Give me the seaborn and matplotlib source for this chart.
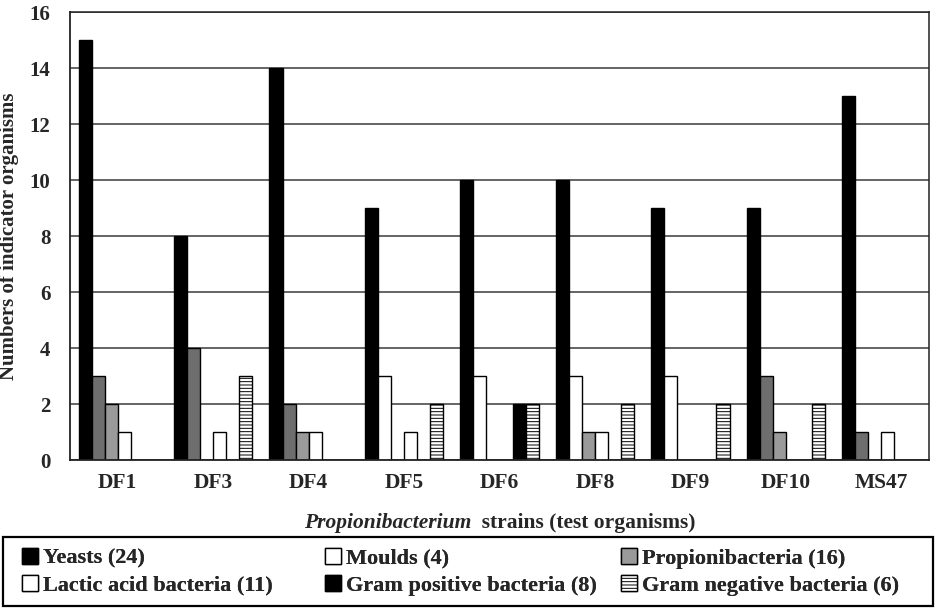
import numpy as np
import pandas as pd
import seaborn as sns
import matplotlib.pyplot as plt
from matplotlib.patches import Patch, Rectangle

# ---- data ----
strains = ["DF1", "DF3", "DF4", "DF5", "DF6", "DF8", "DF9", "DF10", "MS47"]
series = ["Yeasts (24)", "Moulds (4)", "Propionibacteria (16)",
          "Lactic acid bacteria (11)", "Gram positive bacteria (8)",
          "Gram negative bacteria (6)"]
yeasts = [15, 8, 14, 9, 10, 10, 9, 9, 13]
moulds = [3, 4, 2, 3, 3, 3, 3, 3, 1]
propionibacteria = [2, 0, 1, 0, 0, 1, 0, 1, 0]
lactic_acid = [1, 1, 1, 1, 0, 1, 0, 0, 1]
gram_positive = [0, 0, 0, 0, 2, 0, 0, 0, 0]
gram_negative = [0, 3, 0, 2, 2, 2, 2, 2, 0]
yticks = [0, 2, 4, 6, 8, 10, 12, 14, 16]

# styles
series_colors = ["#000000", "#ffffff", "#9a9a9a", "#ffffff", "#000000", "#ffffff"]
moulds_fill = ["#6e6e6e", "#6e6e6e", "#6e6e6e", "#ffffff", "#ffffff",
               "#ffffff", "#ffffff", "#6e6e6e", "#6e6e6e"]

sns.set_theme(style="white")
plt.rcParams['font.family'] = ['Liberation Serif', 'DejaVu Serif']
plt.rcParams['font.weight'] = 'bold'
plt.rcParams['hatch.linewidth'] = 0.7

values = [yeasts, moulds, propionibacteria, lactic_acid, gram_positive, gram_negative]
rows = []
for s, vals in zip(series, values):
    for st, v in zip(strains, vals):
        rows.append({"strain": st, "series": s, "count": v})
df = pd.DataFrame(rows)

fig = plt.figure(figsize=(9.36, 6.12), dpi=100)
ax = fig.add_axes([70 / 936, 1 - 460 / 612, (929 - 70) / 936, 448 / 612])

sns.barplot(data=df, x="strain", y="count", hue="series", order=strains,
            hue_order=series, palette=series_colors, width=0.82,
            edgecolor="black", linewidth=1.0, saturation=1, errorbar=None,
            legend=False, ax=ax)

for i, cont in enumerate(ax.containers):
    for j, bar in enumerate(cont):
        if values[i][j] == 0:
            bar.set_visible(False)
        if i == 1:
            bar.set_facecolor(moulds_fill[j])
        if i == 5:
            bar.set_facecolor("#ffffff")
            bar.set_hatch("-----")

ax.set_ylim(0, 16)
ax.set_xlim(-0.5, len(strains) - 0.5)
ax.set_yticks(yticks)
ax.yaxis.grid(True, color="#3a3a3a", linewidth=1.1)
ax.set_axisbelow(True)
for sp in ax.spines.values():
    sp.set_color("#222222")
    sp.set_linewidth(1.1)
ax.spines['left'].set_linewidth(1.3)
ax.spines['bottom'].set_linewidth(1.3)

ax.tick_params(axis='y', which='major', direction='out', length=6, width=1,
               color='#333333', labelsize=15, pad=8)
ax.tick_params(axis='x', which='major', length=0, labelsize=15.5, pad=9)
ax.set_xticks(np.arange(-0.5, len(strains) + 0.5, 1), minor=True)
ax.tick_params(axis='x', which='minor', direction='out', length=5, width=1,
               color='#333333')
for lab in ax.get_xticklabels() + ax.get_yticklabels():
    lab.set_fontweight('bold')

ax.set_xlabel("")
ax.set_ylabel("Numbers of indicator organisms", fontsize=15, fontweight='bold',
              labelpad=8)

# x label with italic part
xc = (70 + 929) / 2 / 936
yl = 1 - 528 / 612
t1 = fig.text(0, yl, "Propionibacterium", fontsize=15.5, fontweight='bold',
              fontstyle='italic', ha='left', va='baseline')
t2 = fig.text(0, yl, "  strains (test organisms)", fontsize=15.5,
              fontweight='bold', ha='left', va='baseline')
fig.canvas.draw()
r = fig.canvas.get_renderer()
w1 = t1.get_window_extent(r).width / fig.bbox.width
w2 = t2.get_window_extent(r).width / fig.bbox.width
x0 = xc - (w1 + w2) / 2
t1.set_x(x0)
t2.set_x(x0 + w1)

# legend box
fig.add_artist(Rectangle((3 / 936, 1 - 606 / 612), 930 / 936, 69 / 612,
                         transform=fig.transFigure, fill=False,
                         edgecolor='black', linewidth=1.6))

handles = []
for k, s in enumerate(series):
    if k == 5:
        h = Patch(facecolor="#ffffff", edgecolor="black", hatch="-----",
                  linewidth=1.0)
    else:
        h = Patch(facecolor=series_colors[k], edgecolor="black", linewidth=1.0)
    handles.append(h)

col_x = [22, 325, 621]
col_items = [[0, 3], [1, 4], [2, 5]]
for cx, items in zip(col_x, col_items):
    lg = fig.legend([handles[k] for k in items], [series[k] for k in items],
                    loc='center left', bbox_to_anchor=(cx / 936, 1 - 572 / 612),
                    frameon=False, prop={'size': 16, 'weight': 'bold'},
                    handlelength=0.7, handleheight=0.7, handletextpad=0.25,
                    labelspacing=0.3, borderpad=0, borderaxespad=0)
    fig.add_artist(lg)

fig.savefig("out.png", dpi=100)
